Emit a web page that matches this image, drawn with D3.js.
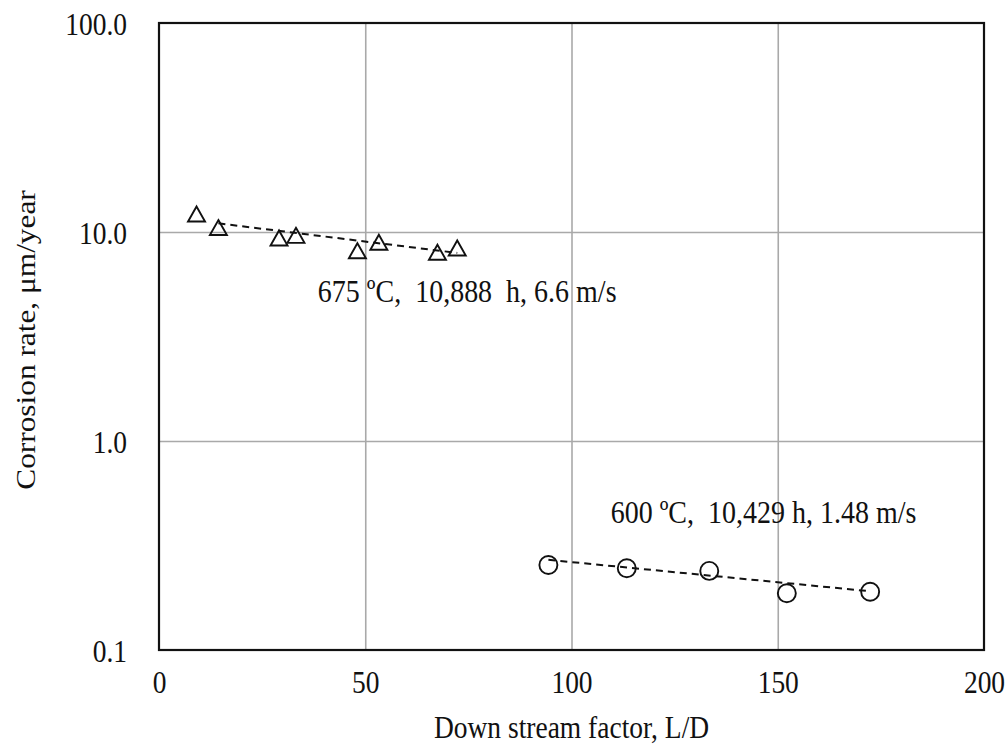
<!DOCTYPE html>
<html>
<head>
<meta charset="utf-8">
<script src="https://cdn.jsdelivr.net/npm/d3@7"></script>
<style>
  html, body { margin: 0; padding: 0; background: #fff; }
  svg { display: block; }
  text { font-family: "Liberation Serif", "Times New Roman", serif; fill: #111; }
</style>
</head>
<body>
<svg id="chart" width="1008" height="744"></svg>
<script>
// ---- data ----
const xTicks = [0, 50, 100, 150, 200];
const yTicks = [0.1, 1, 10, 100];

const triX = [9.1, 14.4, 29.1, 33.2, 48.1, 53.3, 67.5, 72.3];
const triY = [12.2, 10.5, 9.36, 9.64, 8.14, 8.93, 8.0, 8.38];

const cirX = [94.4, 113.4, 133.4, 152.2, 172.4];
const cirY = [0.255, 0.246, 0.239, 0.187, 0.190];

const trend1X = [14.4, 72.3];
const trend1Y = [11.0, 7.94];
const trend2X = [94.4, 172.4];
const trend2Y = [0.270, 0.191];

const label1 = "675 ºC,  10,888  h, 6.6 m/s";
const label1Pos = [38.5, 4.6];
const label2 = "600 ºC,  10,429 h, 1.48 m/s";
const label2Pos = [109.5, 0.405];

const xTitle = "Down stream factor, L/D";
const yTitle = "Corrosion rate, μm/year";

// ---- layout ----
const pLeft = 159, pRight = 984, pTop = 23, pBottom = 650;
const FS = 27.5, FS_NOTE = 28, STRETCH = 1.12;

const svg = d3.select("#chart");
const x = d3.scaleLinear().domain([0, 200]).range([pLeft, pRight]);
const y = d3.scaleLog().domain([0.1, 100]).range([pBottom, pTop]);

// gridlines
svg.append("g")
  .attr("transform", `translate(0,${pBottom})`)
  .call(d3.axisBottom(x).tickValues(xTicks.slice(1, -1)).tickSize(-(pBottom - pTop)).tickFormat(""))
  .call(g => g.select(".domain").remove())
  .call(g => g.selectAll("line").attr("stroke", "#a9a9a9").attr("stroke-width", 1.6));
svg.append("g")
  .attr("transform", `translate(${pLeft},0)`)
  .call(d3.axisLeft(y).tickValues(yTicks.slice(1, -1)).tickSize(-(pRight - pLeft)).tickFormat(""))
  .call(g => g.select(".domain").remove())
  .call(g => g.selectAll("line").attr("stroke", "#a9a9a9").attr("stroke-width", 1.6));

// axes labels
svg.append("g")
  .attr("transform", `translate(0,${pBottom})`)
  .call(d3.axisBottom(x).tickValues(xTicks).tickSize(0).tickFormat(d3.format("d")))
  .call(g => g.select(".domain").remove())
  .call(g => g.selectAll("text")
    .attr("y", null).attr("dy", null).attr("x", null)
    .attr("transform", `translate(0,43) scale(1,${STRETCH})`)
    .attr("text-anchor", "middle")
    .style("font-size", FS + "px")
    .style("font-family", "'Liberation Serif', serif")
    .attr("fill", "#111"));

svg.append("g")
  .attr("transform", `translate(${pLeft},0)`)
  .call(d3.axisLeft(y).tickValues(yTicks).tickSize(0).tickFormat(d3.format(".1f")))
  .call(g => g.select(".domain").remove())
  .call(g => g.selectAll("text")
    .attr("y", null).attr("dy", null).attr("x", null)
    .attr("transform", `translate(-32,11) scale(1,${STRETCH})`)
    .attr("text-anchor", "end")
    .style("font-size", FS + "px")
    .style("font-family", "'Liberation Serif', serif")
    .attr("fill", "#111"));

// plot box
svg.append("rect")
  .attr("x", pLeft).attr("y", pTop)
  .attr("width", pRight - pLeft).attr("height", pBottom - pTop)
  .attr("fill", "none").attr("stroke", "#111").attr("stroke-width", 2.2);

// trend lines
const line = d3.line().x(d => x(d[0])).y(d => y(d[1]));
[[trend1X, trend1Y], [trend2X, trend2Y]].forEach(([tx, ty]) => {
  svg.append("path")
    .attr("d", line(tx.map((v, i) => [v, ty[i]])))
    .attr("fill", "none").attr("stroke", "#111")
    .attr("stroke-width", 2).attr("stroke-dasharray", "7,5");
});

// triangles
const tw = 17, th = 15;
svg.append("g").selectAll("path")
  .data(triX.map((v, i) => [v, triY[i]]))
  .join("path")
  .attr("transform", d => `translate(${x(d[0])},${y(d[1])})`)
  .attr("d", `M0,${-th/2}L${tw/2},${th/2}L${-tw/2},${th/2}Z`)
  .attr("fill", "none").attr("stroke", "#111").attr("stroke-width", 1.9);

// circles
svg.append("g").selectAll("circle")
  .data(cirX.map((v, i) => [v, cirY[i]]))
  .join("circle")
  .attr("cx", d => x(d[0])).attr("cy", d => y(d[1]))
  .attr("r", 9)
  .attr("fill", "none").attr("stroke", "#111").attr("stroke-width", 1.9);

// text helper
function addText(str, px, py, anchor, extra, fs) {
  return svg.append("text")
    .attr("transform", `translate(${px},${py}) ${extra}`)
    .attr("text-anchor", anchor)
    .style("font-size", (fs || FS) + "px")
    .style("white-space", "pre")
    .text(str);
}
addText(label1, x(label1Pos[0]), y(label1Pos[1]), "start", `scale(1,${STRETCH})`, FS_NOTE);
addText(label2, x(label2Pos[0]), y(label2Pos[1]), "start", `scale(1,${STRETCH})`, FS_NOTE);

// axis titles
addText(xTitle, (pLeft + pRight) / 2, 738, "middle", `scale(1,${STRETCH})`);
addText(yTitle, 35, 340, "middle", `rotate(-90) scale(${STRETCH + 0.02},1)`);
</script>
</body>
</html>
